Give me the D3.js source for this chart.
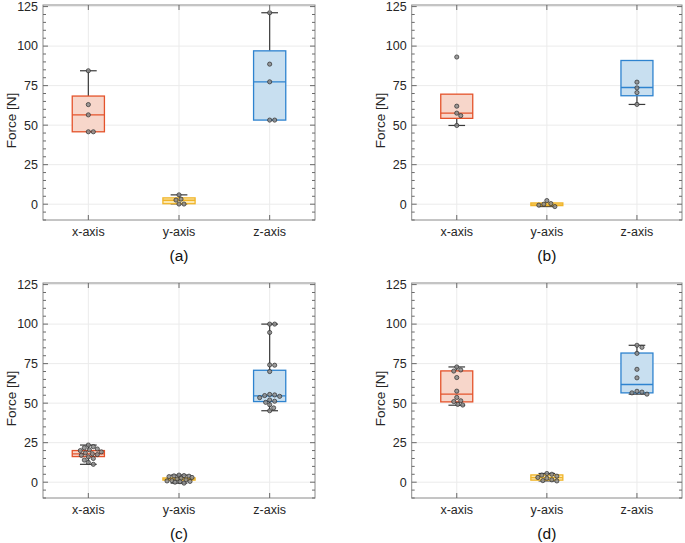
<!DOCTYPE html>
<html><head><meta charset="utf-8">
<script src="https://cdn.jsdelivr.net/npm/d3@7"></script>
<style>body{margin:0;background:#fff}svg{display:block;font-family:"Liberation Sans",Arial,Helvetica,sans-serif}</style>
</head><body>
<script>
// ---------- data ----------
const categories = ["x-axis", "y-axis", "z-axis"];
const panelLabels = ["(a)", "(b)", "(c)", "(d)"];
const yTicks = [0, 25, 50, 75, 100, 125];
const yLabel = "Force [N]";

// box statistics per panel: [x-axis, y-axis, z-axis]
const q1s     = [[45.8, 0.3, 53.2], [54.3, -0.9, 68.6], [16.2, 1.3, 51.0], [50.8, 1.3, 56.5]];
const medians = [[56.5, 2.5, 77.4], [57.6, 0.0, 73.8], [17.9, 2.0, 54.6], [55.7, 2.9, 61.8]];
const q3s     = [[68.4, 4.0, 97.0], [69.6, 0.8, 90.9], [20.0, 2.7, 70.8], [70.4, 4.6, 81.7]];
const whiskLo = [[45.8, 0.2, 53.2], [49.8, -1.5, 63.1], [11.3, -0.6, 45.2], [48.7, 0.8, 55.7]];
const whiskHi = [[84.4, 5.9, 121.1], [69.6, 0.8, 90.9], [23.5, 4.5, 100.0], [72.9, 5.5, 86.6]];

// raw points per panel, per category
const pointsA = [
  [84.4, 63.0, 56.5, 45.8, 45.8],
  [5.9, 3.2, 2.6, 0.1, 0.1],
  [121.1, 88.6, 77.4, 53.2, 53.2]
];
const pointsB = [
  [93.1, 62.0, 57.6, 56.0, 49.8],
  [2.3, 0.4, 0.0, -0.6, -1.5],
  [77.2, 73.6, 70.6, 63.1]
];
const pointsC = [
  [23.5, 22.5, 21.8, 21.0, 20.5, 20.0, 19.2, 18.5, 18.0, 17.5, 17.0, 16.0, 15.0, 14.0, 12.5, 11.3],
  [4.5, 4.2, 4.0, 3.8, 3.5, 3.0, 2.5, 2.0, 1.5, 1.0, 0.8, 0.5, 0.3, 0.0, -0.6],
  [100.0, 100.0, 94.7, 74.2, 74.0, 70.0, 55.5, 55.2, 54.8, 54.3, 53.5, 52.0, 51.2, 50.5, 49.0, 47.0, 45.2]
];
const pointsD = [
  [72.9, 71.0, 70.3, 66.2, 57.6, 53.6, 51.5, 51.0, 49.2, 48.8],
  [5.5, 5.0, 4.5, 3.8, 3.0, 2.5, 1.5, 1.0, 0.8],
  [86.6, 85.3, 81.5, 71.4, 66.0, 57.5, 57.0, 56.5, 55.7]
];
const allPoints = [pointsA, pointsB, pointsC, pointsD];

// ---------- styles ----------
const edgeColors = ["#E4532B", "#F0B429", "#2E83CF"];
const fillColors = ["#F7D6CA", "#FCE8AE", "#C8DFF0"];

const W = 685, H = 543;
const svg = d3.select("body").append("svg").attr("width", W).attr("height", H);

const layout = [
  {left: 43, right: 315, top: 5, bottom: 220},
  {left: 411.7, right: 682, top: 5, bottom: 220},
  {left: 43, right: 315, top: 283, bottom: 498},
  {left: 411.7, right: 682, top: 283, bottom: 498}
];

// deterministic beeswarm limited to a half-width
function beeswarm(vals, y, r, maxOff) {
  const order = vals.map((v, i) => i).sort((a, b) => vals[b] - vals[a]);
  const placed = [];
  const off = new Array(vals.length).fill(0);
  const d = 2 * r + 0.4;
  const cands = [0];
  for (let s = 1; s <= Math.floor(maxOff); s++) cands.push(s, -s);
  for (const i of order) {
    const py = y(vals[i]);
    let best = null, bestScore = -1;
    for (const c of cands) {
      const md = placed.length ? Math.min(...placed.map(p => Math.hypot(p.x - c, p.y - py))) : Infinity;
      if (md >= d) { best = c; break; }
      if (md > bestScore) { bestScore = md; best = c; }
    }
    off[i] = best;
    placed.push({x: best, y: py});
  }
  return off;
}

layout.forEach((L, pi) => {
  const g = svg.append("g");
  const x = d3.scaleBand().domain(categories).range([L.left, L.right]).padding(0);
  const y = d3.scaleLinear().domain([-10, 126]).range([L.bottom, L.top]);
  const bw = x.bandwidth() * 0.355;
  const cw = bw * 0.52;

  // grid
  g.append("g").selectAll("line").data(yTicks).join("line")
    .attr("x1", L.left).attr("x2", L.right)
    .attr("y1", d => y(d)).attr("y2", d => y(d))
    .attr("stroke", "#ebebeb").attr("stroke-width", 1);
  g.append("g").selectAll("line").data(categories).join("line")
    .attr("y1", L.top).attr("y2", L.bottom)
    .attr("x1", d => x(d) + x.bandwidth() / 2).attr("x2", d => x(d) + x.bandwidth() / 2)
    .attr("stroke", "#ebebeb").attr("stroke-width", 1);

  // boxes
  categories.forEach((c, ci) => {
    const cx = x(c) + x.bandwidth() / 2;
    const q1 = q1s[pi][ci], q3 = q3s[pi][ci], md = medians[pi][ci];
    const lo = whiskLo[pi][ci], hi = whiskHi[pi][ci];
    const wk = "#3a3a3a";
    if (hi > q3) {
      g.append("line").attr("x1", cx).attr("x2", cx).attr("y1", y(q3)).attr("y2", y(hi)).attr("stroke", wk).attr("stroke-width", 1.2);
      g.append("line").attr("x1", cx - cw / 2).attr("x2", cx + cw / 2).attr("y1", y(hi)).attr("y2", y(hi)).attr("stroke", wk).attr("stroke-width", 1.2);
    }
    if (lo < q1) {
      g.append("line").attr("x1", cx).attr("x2", cx).attr("y1", y(q1)).attr("y2", y(lo)).attr("stroke", wk).attr("stroke-width", 1.2);
      g.append("line").attr("x1", cx - cw / 2).attr("x2", cx + cw / 2).attr("y1", y(lo)).attr("y2", y(lo)).attr("stroke", wk).attr("stroke-width", 1.2);
    }
    g.append("rect").attr("x", cx - bw / 2).attr("width", bw)
      .attr("y", y(q3)).attr("height", Math.max(1, y(q1) - y(q3)))
      .attr("fill", fillColors[ci]).attr("stroke", edgeColors[ci]).attr("stroke-width", 1.3);
    g.append("line").attr("x1", cx - bw / 2).attr("x2", cx + bw / 2)
      .attr("y1", y(md)).attr("y2", y(md)).attr("stroke", edgeColors[ci]).attr("stroke-width", 1.3);

    const vals = allPoints[pi][ci];
    const offs = beeswarm(vals, y, 2.1, bw / 2 - 3);
    g.append("g").selectAll("circle").data(vals).join("circle")
      .attr("cx", (d, i) => cx + offs[i]).attr("cy", d => y(d)).attr("r", 2.1)
      .attr("fill", "#8c8c8c").attr("fill-opacity", 0.85).attr("stroke", "#2b2b2b").attr("stroke-width", 0.7);
  });

  // frame
  g.append("rect").attr("x", L.left).attr("y", L.top).attr("width", L.right - L.left).attr("height", L.bottom - L.top)
    .attr("fill", "none").attr("stroke", "#8a8a8a").attr("stroke-width", 1);

  // y ticks (inward, both sides) with minor ticks
  const minor = d3.range(-10, 126, 5);
  [L.left, L.right].forEach((xe, side) => {
    const dir = side === 0 ? 1 : -1;
    g.append("g").selectAll("line").data(minor).join("line")
      .attr("x1", xe).attr("x2", d => xe + dir * (yTicks.includes(d) ? 5 : 3))
      .attr("y1", d => y(d)).attr("y2", d => y(d))
      .attr("stroke", "#6a6a6a").attr("stroke-width", 1);
  });
  // x ticks top/bottom
  [L.top, L.bottom].forEach((ye, side) => {
    const dir = side === 0 ? 1 : -1;
    g.append("g").selectAll("line").data(categories).join("line")
      .attr("x1", d => x(d) + x.bandwidth() / 2).attr("x2", d => x(d) + x.bandwidth() / 2)
      .attr("y1", ye).attr("y2", ye + dir * 5)
      .attr("stroke", "#6a6a6a").attr("stroke-width", 1);
  });

  // tick labels
  g.append("g").selectAll("text").data(yTicks).join("text")
    .attr("x", L.left - 5).attr("y", d => y(d)).attr("dy", "0.35em")
    .attr("text-anchor", "end").attr("font-size", 12.5).attr("fill", "#262626").text(d => d);
  g.append("g").selectAll("text").data(categories).join("text")
    .attr("x", d => x(d) + x.bandwidth() / 2).attr("y", L.bottom + 12).attr("dy", "0.35em")
    .attr("text-anchor", "middle").attr("font-size", 12.5).attr("fill", "#262626").text(d => d);

  // y label
  const ly = (L.top + L.bottom) / 2 + 8;
  g.append("text").attr("transform", `translate(${L.left - 27},${ly}) rotate(-90)`)
    .attr("text-anchor", "middle").attr("font-size", 13.5).attr("fill", "#262626").text(yLabel);

  // panel label
  g.append("text").attr("x", (L.left + L.right) / 2).attr("y", L.bottom + 36).attr("dy", "0.35em")
    .attr("text-anchor", "middle").attr("font-size", 15.5).attr("fill", "#111").text(panelLabels[pi]);
});
</script>
</body></html>
